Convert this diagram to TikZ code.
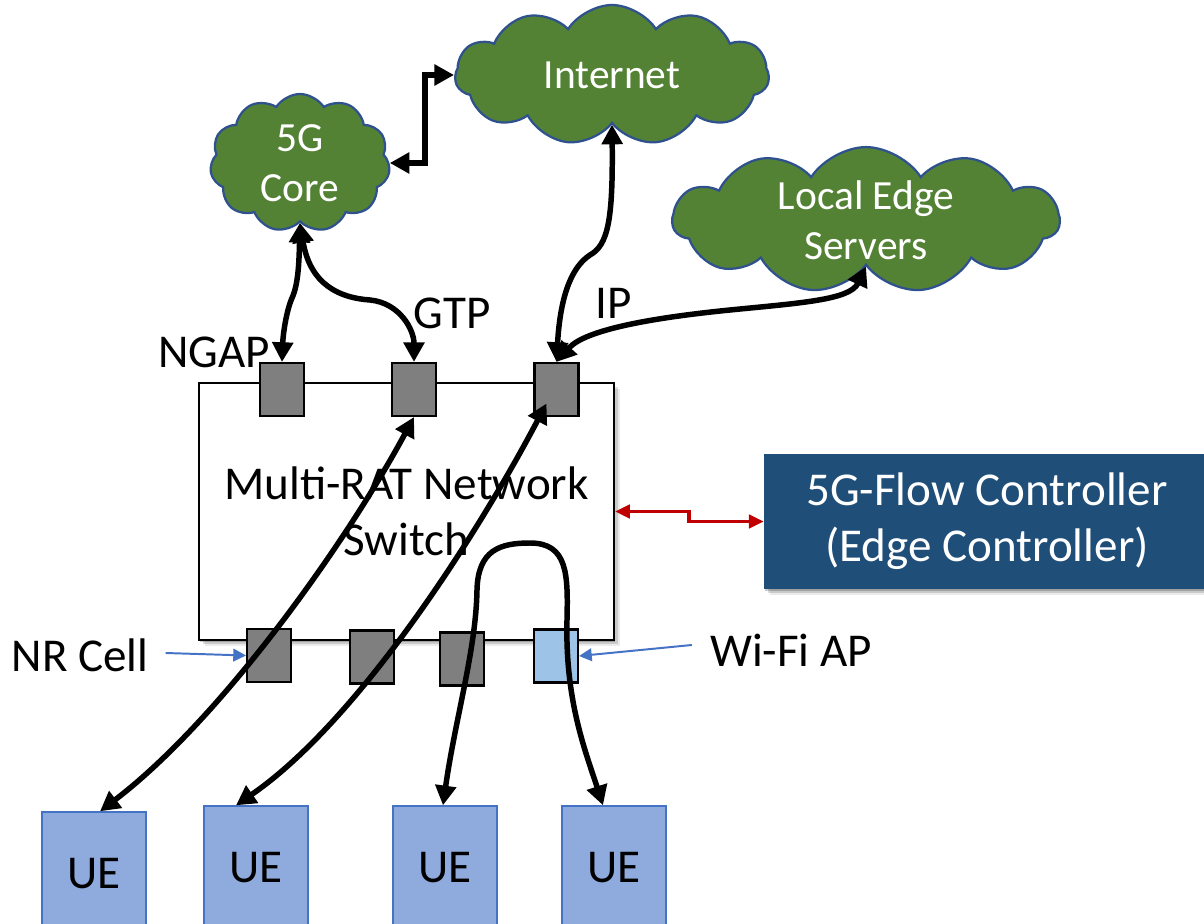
\documentclass[tikz,border=0pt]{standalone}
\usepackage{fontspec}
\setmainfont{Carlito}
\usetikzlibrary{shapes.symbols,arrows.meta,calc,shadows}

\definecolor{cloudgreen}{HTML}{548235}
\definecolor{cloudedge}{HTML}{2F528F}
\definecolor{portgray}{HTML}{7F7F7F}
\definecolor{wifiblue}{HTML}{9DC3E6}
\definecolor{uefill}{HTML}{8FAADC}
\definecolor{ueedge}{HTML}{4472C4}
\definecolor{ctrlblue}{HTML}{1F4E79}
\definecolor{linkred}{HTML}{C00000}

\newcommand\pxu[1]{#1*0.025cm}
\newcommand\bigtxt{\fontsize{33.5}{40}\selectfont}
\newcommand\cloudtxt{\fontsize{29.5}{35.5}\selectfont}

\tikzset{
  cloudnode/.style={cloud, cloud puffs=11, cloud puff arc=115, cloud ignores aspect,
    fill=cloudgreen, draw=cloudedge, line width=1.6pt, text=white,
    font=\cloudtxt, align=center, inner sep=0pt},
  port/.style={rectangle, draw=black, line width=1.5pt, fill=portgray,
    minimum width=\pxu{44}, minimum height=\pxu{53}, inner sep=0pt},
  uebox/.style={rectangle, draw=ueedge, line width=1pt, fill=uefill,
    minimum width=\pxu{104}, minimum height=\pxu{124}, inner sep=0pt, font=\bigtxt},
  lbl/.style={font=\bigtxt, inner sep=0pt},
  tipbig/.tip={Triangle[length=14pt,width=14.5pt]},
  flow/.style={line width=3.9pt, tipbig-tipbig},
  pointer/.style={draw=ueedge, line width=1.4pt, -{Triangle[length=9pt,width=9pt]}},
  ctrllink/.style={draw=linkred, line width=2.5pt,
    {Triangle[length=10.5pt,width=9.5pt]}-{Triangle[length=10.5pt,width=9.5pt]}},
  softshadow/.style={
    drop shadow={shadow xshift=1pt, shadow yshift=-1.5pt, opacity=.2, fill=black},
    drop shadow={shadow xshift=2.5pt, shadow yshift=-3pt, opacity=.14, fill=black},
    drop shadow={shadow xshift=4pt, shadow yshift=-4.5pt, opacity=.08, fill=black}}
}

\begin{document}
\begin{tikzpicture}[x=0.025cm,y=-0.025cm]
\useasboundingbox (0,0) rectangle (1204,924);

% clouds
\node[cloudnode, minimum width=\pxu{180}, minimum height=\pxu{138}] (core) at (300,163) {5G\\Core};
\node[cloudnode, minimum width=\pxu{314}, minimum height=\pxu{140}] (inet) at (612,75) {Internet};
\node[cloudnode, minimum width=\pxu{387}, minimum height=\pxu{136}] (edge) at (866,220) {Local Edge\\Servers};

% switch
\node[draw=black, line width=1.5pt, fill=white, softshadow,
      minimum width=\pxu{415}, minimum height=\pxu{257}, font=\bigtxt, align=center]
      (sw) at (406.5,511.5) {Multi-RAT Network\\Switch};

% ports on the switch
\node[port] (pN) at (282,389.5) {};
\node[port] (pG) at (414,389.5) {};
\node[port] (pI) at (556.5,389.5) {};
\node[port] (b1) at (269,655.5) {};
\node[port] (b2) at (372,657) {};
\node[port] (b3) at (462,659) {};
\node[port, fill=wifiblue] (b4) at (556,656) {};

% controller
\node[fill=ctrlblue, text=white, font=\bigtxt, align=center, softshadow,
      minimum width=\pxu{446}, minimum height=\pxu{135}, inner sep=0pt]
      (ctrl) at (987,521.5) {5G-Flow Controller\\(Edge Controller)};

% user equipment
\node[uebox] (u1) at (94,874) {UE};
\node[uebox] (u2) at (256,868) {UE};
\node[uebox] (u3) at (445,868) {UE};
\node[uebox] (u4) at (614,868) {UE};

% labels
\node[lbl] (ngap) at (214,352) {NGAP};
\node[lbl] (gtp) at (452,313) {GTP};
\node[lbl] (ip) at (614,303) {IP};
\node[lbl] (nr) at (80,655) {NR Cell};
\node[lbl] (wifi) at (791,650) {Wi-Fi AP};

% control-plane and data-plane links
\draw[flow] (core.east) -- ++(35,0) |- (inet.west);
\draw[flow] (core.south) .. controls (299,265) and (298,285) .. (292,298)
            .. controls (286,312) and (283,335) .. (pN.north);
\draw[flow] (core.south) .. controls (310,285) and (340,298) .. (370,300)
            .. controls (400,303) and (414,330) .. (pG.north);
\draw[flow] (inet.south) .. controls (613,220) and (608,245) .. (590,255)
            .. controls (570,268) and (560,300) .. (pI.north);
\draw[flow] (pI.north) .. controls (585,330) and (650,318) .. (730,310)
            .. controls (800,303) and (850,300) .. (edge.south);

% flows through the switch to the UEs
\draw[flow] (pG.south) .. controls (345,545) and (220,720) .. ($(u1.north)+(6,0)$);
\draw[flow] ($(pI.center)+(-10,14)$) .. controls (480,530) and (360,720) .. ($(u2.north)+(-20,0)$);
\draw[flow] ($(u3.north)+(-2,0)$) .. controls (455,720) and (476,650) .. (477,590)
            .. controls (478,550) and (500,543) .. (530,543)
            .. controls (568,543) and (568,575) .. (567,620)
            .. controls (565,700) and (585,750) .. ($(u4.north)+(-11,0)$);

% pointers to the radio ports
\draw[pointer] ($(nr.east)+(17,-2)$) -- (b1.west);
\draw[pointer] ($(wifi.west)+(-18,-5)$) -- (b4.east);

% switch to controller
\draw[ctrllink] (sw.east) -- ++(74,0) |- (ctrl.west);
\end{tikzpicture}
\end{document}
